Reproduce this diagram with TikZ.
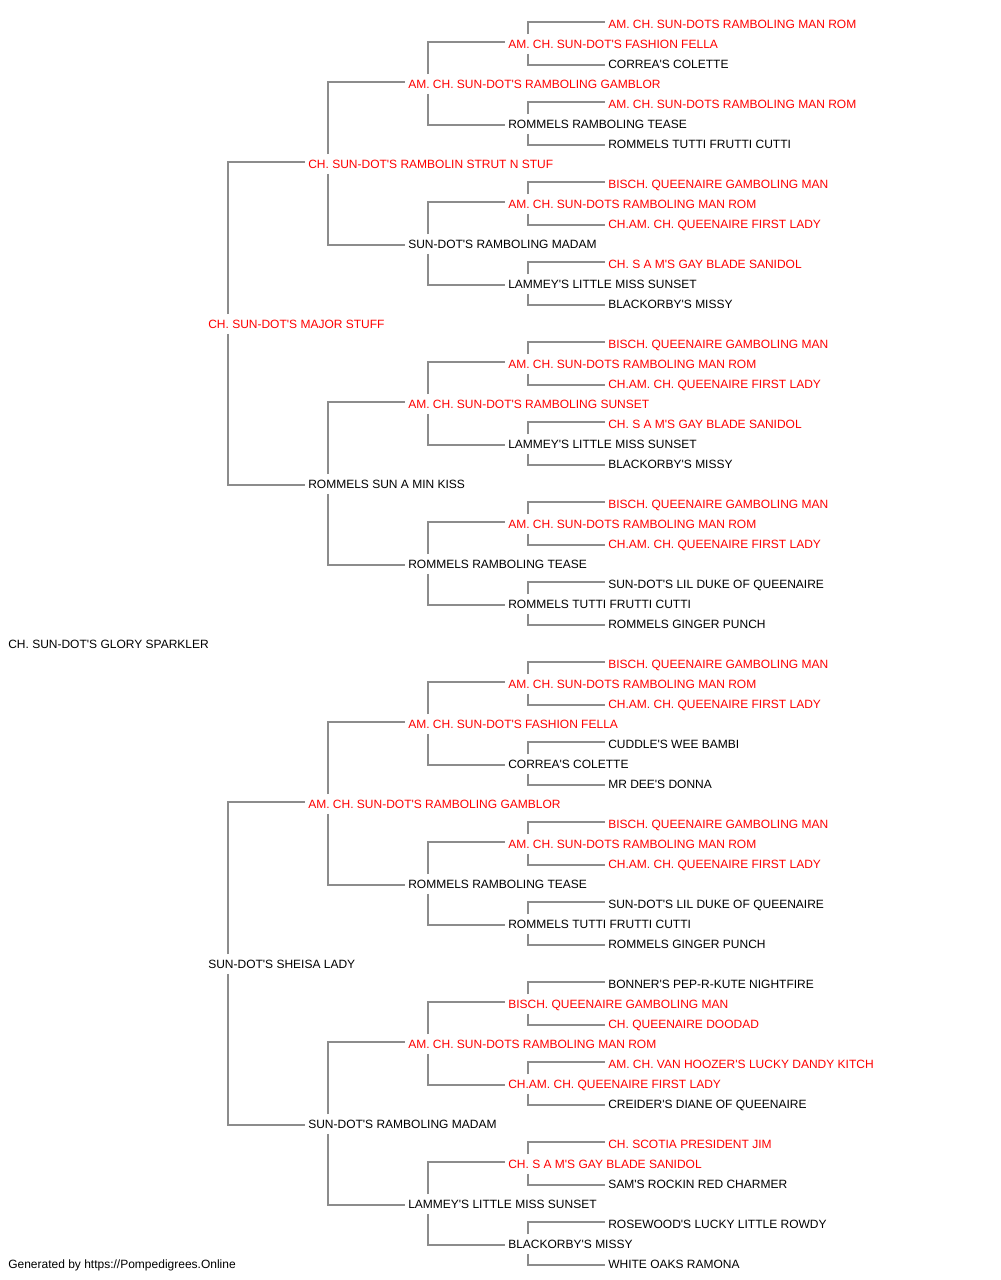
\documentclass[tikz,border=0pt]{standalone}
\usepackage{fontspec}
\setmainfont{Liberation Sans}[Ligatures=TeXOff]
\usepackage{xcolor}

\begin{document}
\begin{tikzpicture}[x=0.75pt, y=-0.75pt]
        % ================= styles =================
        \tikzset{
            % plain dog name
            dog/.style={anchor=west, inner sep=0pt, text height=10.6pt, text depth=3.7pt, font=\fontsize{9pt}{10pt}\selectfont, text=black},
            % titled dog (red)
            champ/.style={dog, text=red},
            % gray pedigree bracket
            link/.style={line width=1pt, gray!90!white}
        }
        % child, sire, dam
        \newcommand{\kin}[3]{%
            \draw[link] ([xshift=15pt]#1.north west) |- ([shift={(-2.25pt,1.5pt)}]#2.west);
            \draw[link] ([xshift=15pt]#1.south west) |- ([shift={(-2.25pt,-0.75pt)}]#3.west);}

        \useasboundingbox (0,0) rectangle (1000,1280);

        % ================= generation 0 and 1 =================
        \node[dog] (p1) at (8,644) {CH. SUN-DOT'S GLORY SPARKLER};
        \node[champ] (p2) at (208,324) {CH. SUN-DOT'S MAJOR STUFF};
        \node[dog] (p3) at (208,964) {SUN-DOT'S SHEISA LADY};

        % ================= generation 2 =================
        \node[champ] (p4) at (308,164) {CH. SUN-DOT'S RAMBOLIN STRUT N STUF};
        \node[dog] (p5) at (308,484) {ROMMELS SUN A MIN KISS};
        \node[champ] (p6) at (308,804) {AM. CH. SUN-DOT'S RAMBOLING GAMBLOR};
        \node[dog] (p7) at (308,1124) {SUN-DOT'S RAMBOLING MADAM};

        % ================= generation 3 =================
        \node[champ] (p8) at (408,84) {AM. CH. SUN-DOT'S RAMBOLING GAMBLOR};
        \node[dog] (p9) at (408,244) {SUN-DOT'S RAMBOLING MADAM};
        \node[champ] (p10) at (408,404) {AM. CH. SUN-DOT'S RAMBOLING SUNSET};
        \node[dog] (p11) at (408,564) {ROMMELS RAMBOLING TEASE};
        \node[champ] (p12) at (408,724) {AM. CH. SUN-DOT'S FASHION FELLA};
        \node[dog] (p13) at (408,884) {ROMMELS RAMBOLING TEASE};
        \node[champ] (p14) at (408,1044) {AM. CH. SUN-DOTS RAMBOLING MAN ROM};
        \node[dog] (p15) at (408,1204) {LAMMEY'S LITTLE MISS SUNSET};

        % ================= generation 4 =================
        \node[champ] (p16) at (508,44) {AM. CH. SUN-DOT'S FASHION FELLA};
        \node[dog] (p17) at (508,124) {ROMMELS RAMBOLING TEASE};
        \node[champ] (p18) at (508,204) {AM. CH. SUN-DOTS RAMBOLING MAN ROM};
        \node[dog] (p19) at (508,284) {LAMMEY'S LITTLE MISS SUNSET};
        \node[champ] (p20) at (508,364) {AM. CH. SUN-DOTS RAMBOLING MAN ROM};
        \node[dog] (p21) at (508,444) {LAMMEY'S LITTLE MISS SUNSET};
        \node[champ] (p22) at (508,524) {AM. CH. SUN-DOTS RAMBOLING MAN ROM};
        \node[dog] (p23) at (508,604) {ROMMELS TUTTI FRUTTI CUTTI};
        \node[champ] (p24) at (508,684) {AM. CH. SUN-DOTS RAMBOLING MAN ROM};
        \node[dog] (p25) at (508,764) {CORREA'S COLETTE};
        \node[champ] (p26) at (508,844) {AM. CH. SUN-DOTS RAMBOLING MAN ROM};
        \node[dog] (p27) at (508,924) {ROMMELS TUTTI FRUTTI CUTTI};
        \node[champ] (p28) at (508,1004) {BISCH. QUEENAIRE GAMBOLING MAN};
        \node[champ] (p29) at (508,1084) {CH.AM. CH. QUEENAIRE FIRST LADY};
        \node[champ] (p30) at (508,1164) {CH. S A M'S GAY BLADE SANIDOL};
        \node[dog] (p31) at (508,1244) {BLACKORBY'S MISSY};

        % ================= generation 5 =================
        \node[champ] (p32) at (608,24) {AM. CH. SUN-DOTS RAMBOLING MAN ROM};
        \node[dog] (p33) at (608,64) {CORREA'S COLETTE};
        \node[champ] (p34) at (608,104) {AM. CH. SUN-DOTS RAMBOLING MAN ROM};
        \node[dog] (p35) at (608,144) {ROMMELS TUTTI FRUTTI CUTTI};
        \node[champ] (p36) at (608,184) {BISCH. QUEENAIRE GAMBOLING MAN};
        \node[champ] (p37) at (608,224) {CH.AM. CH. QUEENAIRE FIRST LADY};
        \node[champ] (p38) at (608,264) {CH. S A M'S GAY BLADE SANIDOL};
        \node[dog] (p39) at (608,304) {BLACKORBY'S MISSY};
        \node[champ] (p40) at (608,344) {BISCH. QUEENAIRE GAMBOLING MAN};
        \node[champ] (p41) at (608,384) {CH.AM. CH. QUEENAIRE FIRST LADY};
        \node[champ] (p42) at (608,424) {CH. S A M'S GAY BLADE SANIDOL};
        \node[dog] (p43) at (608,464) {BLACKORBY'S MISSY};
        \node[champ] (p44) at (608,504) {BISCH. QUEENAIRE GAMBOLING MAN};
        \node[champ] (p45) at (608,544) {CH.AM. CH. QUEENAIRE FIRST LADY};
        \node[dog] (p46) at (608,584) {SUN-DOT'S LIL DUKE OF QUEENAIRE};
        \node[dog] (p47) at (608,624) {ROMMELS GINGER PUNCH};
        \node[champ] (p48) at (608,664) {BISCH. QUEENAIRE GAMBOLING MAN};
        \node[champ] (p49) at (608,704) {CH.AM. CH. QUEENAIRE FIRST LADY};
        \node[dog] (p50) at (608,744) {CUDDLE'S WEE BAMBI};
        \node[dog] (p51) at (608,784) {MR DEE'S DONNA};
        \node[champ] (p52) at (608,824) {BISCH. QUEENAIRE GAMBOLING MAN};
        \node[champ] (p53) at (608,864) {CH.AM. CH. QUEENAIRE FIRST LADY};
        \node[dog] (p54) at (608,904) {SUN-DOT'S LIL DUKE OF QUEENAIRE};
        \node[dog] (p55) at (608,944) {ROMMELS GINGER PUNCH};
        \node[dog] (p56) at (608,984) {BONNER'S PEP-R-KUTE NIGHTFIRE};
        \node[champ] (p57) at (608,1024) {CH. QUEENAIRE DOODAD};
        \node[champ] (p58) at (608,1064) {AM. CH. VAN HOOZER'S LUCKY DANDY KITCH};
        \node[dog] (p59) at (608,1104) {CREIDER'S DIANE OF QUEENAIRE};
        \node[champ] (p60) at (608,1144) {CH. SCOTIA PRESIDENT JIM};
        \node[dog] (p61) at (608,1184) {SAM'S ROCKIN RED CHARMER};
        \node[dog] (p62) at (608,1224) {ROSEWOOD'S LUCKY LITTLE ROWDY};
        \node[dog] (p63) at (608,1264) {WHITE OAKS RAMONA};

        % footer
        \node[dog] (credit) at (8,1264) {Generated by https://Pompedigrees.Online};

        % ================= brackets: child -> sire, dam =================
        \kin{p2}{p4}{p5}
        \kin{p3}{p6}{p7}
        \kin{p4}{p8}{p9}
        \kin{p5}{p10}{p11}
        \kin{p6}{p12}{p13}
        \kin{p7}{p14}{p15}
        \kin{p8}{p16}{p17}
        \kin{p9}{p18}{p19}
        \kin{p10}{p20}{p21}
        \kin{p11}{p22}{p23}
        \kin{p12}{p24}{p25}
        \kin{p13}{p26}{p27}
        \kin{p14}{p28}{p29}
        \kin{p15}{p30}{p31}
        \kin{p16}{p32}{p33}
        \kin{p17}{p34}{p35}
        \kin{p18}{p36}{p37}
        \kin{p19}{p38}{p39}
        \kin{p20}{p40}{p41}
        \kin{p21}{p42}{p43}
        \kin{p22}{p44}{p45}
        \kin{p23}{p46}{p47}
        \kin{p24}{p48}{p49}
        \kin{p25}{p50}{p51}
        \kin{p26}{p52}{p53}
        \kin{p27}{p54}{p55}
        \kin{p28}{p56}{p57}
        \kin{p29}{p58}{p59}
        \kin{p30}{p60}{p61}
        \kin{p31}{p62}{p63}

    \end{tikzpicture}
\end{document}
